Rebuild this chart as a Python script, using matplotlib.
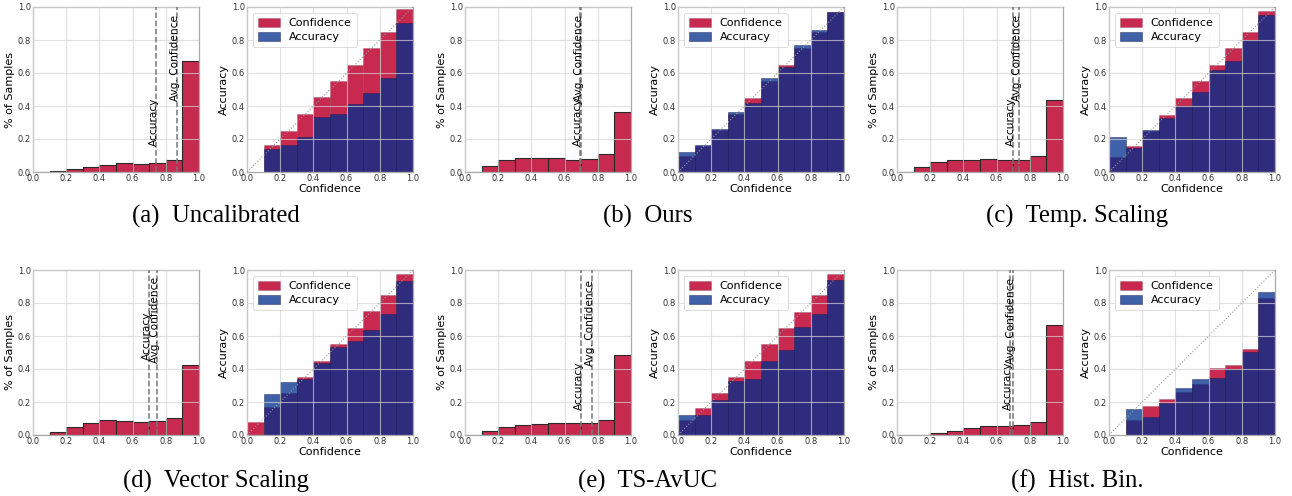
import matplotlib
matplotlib.use("Agg")
import matplotlib.pyplot as plt
import numpy as np

# ---------------- data ----------------
bin_edges = [0.0, 0.1, 0.2, 0.3, 0.4, 0.5, 0.6, 0.7, 0.8, 0.9]
ticks = [0.0, 0.2, 0.4, 0.6, 0.8, 1.0]
tick_labels = ["0.0", "0.2", "0.4", "0.6", "0.8", "1.0"]

captions = ["(a)  Uncalibrated", "(b)  Ours", "(c)  Temp. Scaling",
            "(d)  Vector Scaling", "(e)  TS-AvUC", "(f)  Hist. Bin."]

# fraction of samples per bin
hist_uncal = [0.0, 0.004, 0.018, 0.032, 0.044, 0.053, 0.050, 0.057, 0.073, 0.671]
hist_ours = [0.0, 0.038, 0.073, 0.087, 0.087, 0.085, 0.075, 0.077, 0.109, 0.362]
hist_temp = [0.0, 0.032, 0.061, 0.073, 0.075, 0.077, 0.071, 0.073, 0.095, 0.438]
hist_vec = [0.0, 0.016, 0.050, 0.073, 0.089, 0.085, 0.079, 0.083, 0.103, 0.426]
hist_avuc = [0.0, 0.022, 0.048, 0.063, 0.069, 0.071, 0.073, 0.071, 0.093, 0.485]
hist_hb = [0.0, 0.002, 0.012, 0.026, 0.042, 0.055, 0.057, 0.063, 0.081, 0.669]

# average accuracy / average confidence (vertical lines)
avg_acc = [0.743, 0.695, 0.700, 0.700, 0.699, 0.682]
avg_conf = [0.867, 0.700, 0.736, 0.745, 0.765, 0.700]

# per-bin confidence and accuracy
conf_uncal = [0.0, 0.164, 0.250, 0.350, 0.453, 0.552, 0.650, 0.750, 0.850, 0.986]
acc_uncal = [0.0, 0.141, 0.162, 0.210, 0.333, 0.352, 0.414, 0.481, 0.570, 0.905]
conf_ours = [0.095, 0.160, 0.253, 0.350, 0.450, 0.550, 0.648, 0.750, 0.850, 0.968]
acc_ours = [0.119, 0.165, 0.262, 0.366, 0.420, 0.570, 0.638, 0.768, 0.862, 0.970]
conf_temp = [0.091, 0.160, 0.250, 0.347, 0.448, 0.550, 0.648, 0.750, 0.850, 0.976]
acc_temp = [0.212, 0.147, 0.257, 0.325, 0.402, 0.483, 0.618, 0.675, 0.798, 0.954]
conf_vec = [0.077, 0.168, 0.253, 0.352, 0.450, 0.550, 0.648, 0.750, 0.850, 0.976]
acc_vec = [0.0, 0.246, 0.320, 0.337, 0.438, 0.533, 0.572, 0.636, 0.735, 0.935]
conf_avuc = [0.093, 0.162, 0.253, 0.352, 0.450, 0.550, 0.648, 0.747, 0.850, 0.978]
acc_avuc = [0.119, 0.123, 0.210, 0.330, 0.337, 0.446, 0.515, 0.655, 0.731, 0.939]
conf_hb = [0.0, 0.093, 0.174, 0.218, 0.263, 0.311, 0.404, 0.426, 0.523, 0.832]
acc_hb = [0.0, 0.160, 0.111, 0.192, 0.285, 0.337, 0.343, 0.400, 0.505, 0.869]

hists = [hist_uncal, hist_ours, hist_temp, hist_vec, hist_avuc, hist_hb]
confs = [conf_uncal, conf_ours, conf_temp, conf_vec, conf_avuc, conf_hb]
accs = [acc_uncal, acc_ours, acc_temp, acc_vec, acc_avuc, acc_hb]

# text y-positions for the vertical-line labels (layout)
acc_text_y = [0.155, 0.155, 0.155, 0.455, 0.15, 0.15]
conf_text_y = [0.43, 0.43, 0.43, 0.435, 0.42, 0.43]

# ---------------- style ----------------
RED = (0.78, 0.16, 0.31)
BLUE = (0.0, 0.18, 0.55)
BLUE_ALPHA = 0.755
SPINE = "#aaaaaa"
GRID = "#d4d4d4"

W, H = 1292, 496
fig = plt.figure(figsize=(W / 100, H / 100), dpi=100)

lefts = [33, 247, 465, 678, 897, 1109]
tops = [7, 270]
aw, ah = 166, 165
cap_x = [216, 648, 1077]
cap_y = [216, 481]


def style(ax):
    ax.set_xlim(0, 1)
    ax.set_ylim(0, 1)
    ax.set_xticks(ticks)
    ax.set_xticklabels(tick_labels)
    ax.set_yticks(ticks)
    ax.set_yticklabels(tick_labels)
    ax.tick_params(length=0, labelsize=6, pad=1.5, colors="#333333")
    for s in ax.spines.values():
        s.set_color(SPINE)
        s.set_linewidth(0.9)
    ax.grid(True, color=GRID, lw=0.8, alpha=0.7)
    ax.set_axisbelow(False)


for r in range(2):
    for c in range(3):
        k = r * 3 + c
        # histogram panel
        axh = fig.add_axes([lefts[2 * c] / W, 1 - (tops[r] + ah) / H, aw / W, ah / H])
        style(axh)
        axh.bar(bin_edges, hists[k], width=0.1, align="edge", color=RED,
                edgecolor="#2a2a2a", linewidth=0.8, zorder=1)
        axh.axvline(avg_acc[k], color="#777777", ls="--", lw=1.1, zorder=3)
        axh.axvline(avg_conf[k], color="#777777", ls="--", lw=1.1, zorder=3)
        axh.text(avg_acc[k] - 0.012, acc_text_y[k], "Accuracy", rotation=90,
                 ha="center", va="bottom", fontsize=7.6, zorder=4)
        axh.text(avg_conf[k] - 0.012, conf_text_y[k], "Avg. Confidence", rotation=90,
                 ha="center", va="bottom", fontsize=7.6, zorder=4)
        axh.set_ylabel("% of Samples", fontsize=8, labelpad=2)

        # reliability panel
        axr = fig.add_axes([lefts[2 * c + 1] / W, 1 - (tops[r] + ah) / H, aw / W, ah / H])
        style(axr)
        axr.bar(bin_edges, confs[k], width=0.1, align="edge", color=RED,
                edgecolor=(0.3, 0.1, 0.2, 0.35), linewidth=0.4, label="Confidence", zorder=1)
        axr.bar(bin_edges, accs[k], width=0.1, align="edge", color=BLUE, alpha=BLUE_ALPHA,
                edgecolor=(0.1, 0.1, 0.3, 0.5), linewidth=0.4, label="Accuracy", zorder=2)
        axr.plot([0, 1], [0, 1], color="#999999", ls=":", lw=0.8, zorder=3)
        axr.set_xlabel("Confidence", fontsize=8, labelpad=1)
        axr.set_ylabel("Accuracy", fontsize=8, labelpad=2)
        leg = axr.legend(loc="upper left", fontsize=8, frameon=True, borderaxespad=0.5,
                         handlelength=2.0, handleheight=0.9, handletextpad=0.8,
                         borderpad=0.45, labelspacing=0.35)
        leg.get_frame().set_edgecolor("#cccccc")
        leg.get_frame().set_linewidth(0.6)

        fig.text(cap_x[c] / W, 1 - cap_y[r] / H, captions[k], ha="center", va="center",
                 fontsize=17.8, family="Liberation Serif")

fig.savefig("out.png", dpi=100)
